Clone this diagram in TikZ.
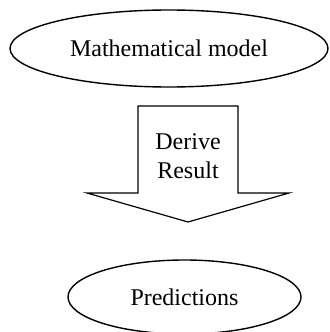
\documentclass[tikz,border=0pt]{standalone}
\usepackage{fontspec}
\setmainfont{Liberation Serif}
\usetikzlibrary{shapes.geometric}

\begin{document}
\begin{tikzpicture}[x=0.5pt,y=-0.5pt]
\tikzset{
  ovalnode/.style={ellipse,draw=black,line width=0.7pt,inner sep=0pt,font=\fontsize{12}{14}\selectfont},
  blockarrow/.style={draw=black,line width=0.6pt,line join=miter},
  arrowtext/.style={align=center,inner sep=0pt,font=\fontsize{12}{14.5}\selectfont}
}
\useasboundingbox (0,0) rectangle (329,332);
\node[ovalnode,minimum width=159pt,minimum height=38.5pt] (n_model) at (169,48.5) {Mathematical model};
\node[ovalnode,minimum width=116.5pt,minimum height=37pt] (n_pred) at (184.5,297) {Predictions};
% block arrow
\draw[blockarrow] (138,106) -- (238,106) -- (238,193) -- (289,193) -- (188,222)
  -- (87,193) -- (138,193) -- cycle;
\node[arrowtext] (n_derive) at (188,156) {Derive\\Result};
\end{tikzpicture}
\end{document}
